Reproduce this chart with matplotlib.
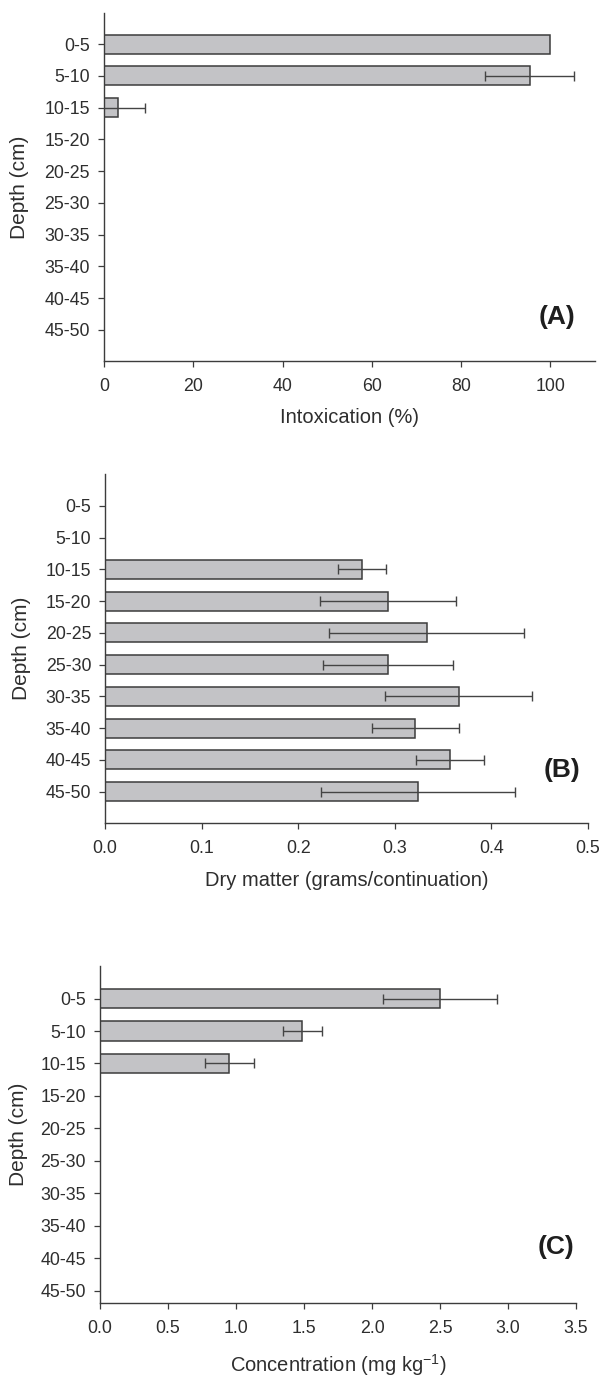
import numpy as np
import matplotlib
matplotlib.use("Agg")
import matplotlib.pyplot as plt

plt.rcParams['font.family'] = ['Liberation Sans', 'DejaVu Sans']
plt.rcParams['mathtext.fontset'] = 'custom'
plt.rcParams['mathtext.rm'] = 'Liberation Sans'
plt.rcParams['mathtext.it'] = 'Liberation Sans:italic'

depths = ['0-5', '5-10', '10-15', '15-20', '20-25', '25-30',
          '30-35', '35-40', '40-45', '45-50']

intox_mean = [100, 95.4, 3.1, None, None, None, None, None, None, None]
intox_err = [0, 10.0, 6.0, None, None, None, None, None, None, None]

dry_mean = [None, None, 0.266, 0.293, 0.333, 0.293, 0.366, 0.321, 0.357, 0.324]
dry_err = [None, None, 0.025, 0.070, 0.101, 0.067, 0.076, 0.045, 0.035, 0.100]

conc_mean = [2.50, 1.487, 0.952, None, None, None, None, None, None, None]
conc_err = [0.42, 0.145, 0.177, None, None, None, None, None, None, None]

xticks_a = [0, 20, 40, 60, 80, 100]
xticks_b = [0.0, 0.1, 0.2, 0.3, 0.4, 0.5]
xticks_c = [0.0, 0.5, 1.0, 1.5, 2.0, 2.5, 3.0, 3.5]

TXT = '#2e2e2e'
EDGE = '#3c3c3c'
FILL = '#c3c3c6'

fig = plt.figure(figsize=(6.05, 13.77), dpi=100)

panels = [
    dict(rect=[0.1719, 0.7375, 0.8116, 0.2534], mean=intox_mean, err=intox_err,
         xlim=(0, 110), ylim=(10.0, -1.0), xticks=xticks_a, fmt='{:.0f}',
         xlabel='Intoxication (%)', xlab_y=-0.162, tag='(A)', tag_pos=(0.9226, 0.1275),
         ylab_x=-0.172),
    dict(rect=[0.1736, 0.4020, 0.7983, 0.2538], mean=dry_mean, err=dry_err,
         xlim=(0, 0.5), ylim=(10.0, -1.0), xticks=xticks_b, fmt='{:.1f}',
         xlabel='Dry matter (grams/continuation)', xlab_y=-0.162, tag='(B)',
         tag_pos=(0.946, 0.153), ylab_x=-0.172),
    dict(rect=[0.1653, 0.0537, 0.7868, 0.2447], mean=conc_mean, err=conc_err,
         xlim=(0, 3.5), ylim=(9.38, -1.0), xticks=xticks_c, fmt='{:.1f}',
         xlabel='Concentration (mg kg$^{-1}$)', xlab_y=-0.184, tag='(C)',
         tag_pos=(0.958, 0.166), ylab_x=-0.172),
]

for p in panels:
    ax = fig.add_axes(p['rect'])
    mean = np.array([np.nan if v is None else v for v in p['mean']], dtype=float)
    err = np.array([np.nan if v is None else v for v in p['err']], dtype=float)
    pos = np.arange(len(depths))
    ok = np.isfinite(mean)
    ax.barh(pos[ok], mean[ok], height=0.6, color=FILL, edgecolor=EDGE,
            linewidth=1.1, zorder=2)
    eok = ok & np.isfinite(err) & (np.nan_to_num(err) > 0)
    ax.errorbar(mean[eok], pos[eok], xerr=err[eok], fmt='none', ecolor='#444444',
                elinewidth=1.0, capsize=3.8, capthick=1.0, zorder=3)
    ax.set_xlim(*p['xlim'])
    ax.set_ylim(*p['ylim'])
    ax.set_yticks(pos)
    ax.set_yticklabels(depths)
    ax.set_xticks(p['xticks'])
    ax.set_xticklabels([p['fmt'].format(t) for t in p['xticks']])
    for s in ['top', 'right']:
        ax.spines[s].set_visible(False)
    for s in ['left', 'bottom']:
        ax.spines[s].set_color(EDGE)
        ax.spines[s].set_linewidth(1.0)
    ax.tick_params(axis='y', direction='out', length=4.0, width=0.9, color=EDGE,
                   labelsize=12.8, labelcolor=TXT, pad=6)
    ax.tick_params(axis='x', direction='out', length=4.0, width=0.9, color=EDGE,
                   labelsize=12.8, labelcolor=TXT, pad=8)
    ax.set_xlabel(p['xlabel'], fontsize=14.5, color=TXT)
    ax.xaxis.set_label_coords(0.5, p['xlab_y'])
    ax.xaxis.label.set_verticalalignment('center')
    ax.set_ylabel('Depth (cm)', fontsize=15, color=TXT)
    ax.yaxis.set_label_coords(p['ylab_x'], 0.5)
    ax.yaxis.label.set_verticalalignment('center')
    ax.text(p['tag_pos'][0], p['tag_pos'][1], p['tag'], transform=ax.transAxes,
            ha='center', va='center', fontsize=19, fontweight='bold', color='#1e1e1e')

fig.savefig('out.png', dpi=100)
